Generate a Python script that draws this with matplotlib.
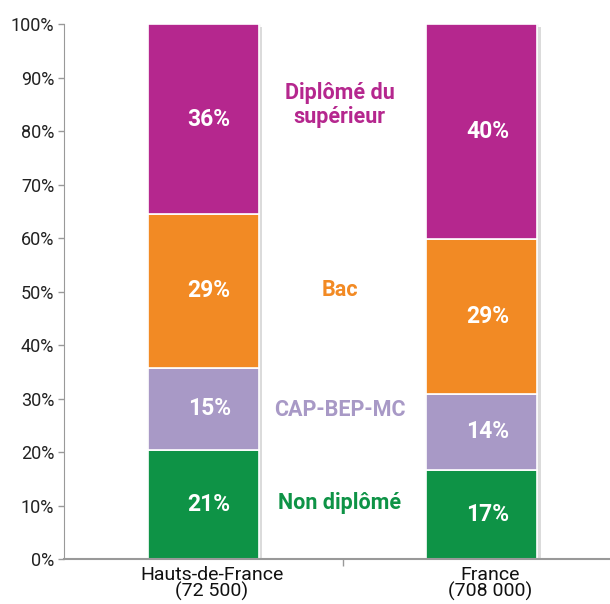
import matplotlib
matplotlib.use("Agg")
import matplotlib.pyplot as plt
import matplotlib.patheffects as pe
import matplotlib.transforms as mtransforms
import numpy as np

plt.rcParams['font.family'] = ['Roboto', 'DejaVu Sans']

categories = ["Hauts-de-France\n(72 500)", "France\n(708 000)"]
series_names = ["Non diplômé", "CAP-BEP-MC", "Bac", "Diplômé du\nsupérieur"]
non_diplome = [20.4, 16.7]
cap_bep = [15.4, 14.2]
bac = [28.7, 29.0]
superieur = [35.5, 40.1]
lbl_non_diplome = ["21%", "17%"]
lbl_cap_bep = ["15%", "14%"]
lbl_bac = ["29%", "29%"]
lbl_superieur = ["36%", "40%"]
yticks = [0, 10, 20, 30, 40, 50, 60, 70, 80, 90, 100]
ytick_labels = [f"{v}%" for v in yticks]
series_label_y = [10.5, 27.8, 50.3, 84.9]

colors = ["#0e9346", "#a899c6", "#f28a24", "#b5278e"]

series = [non_diplome, cap_bep, bac, superieur]
labels = [lbl_non_diplome, lbl_cap_bep, lbl_bac, lbl_superieur]

fig = plt.figure(figsize=(6.10, 6.04), dpi=100)
ax = fig.add_axes([64/610, 1-559.3/604, (610-64)/610, (559.3-24)/604])

x = np.arange(len(categories))
width = 0.4

totals = np.sum(series, axis=0)
ax.bar(x, totals, width=width, color="white", edgecolor="#dddddd", linewidth=1.0, zorder=1,
       path_effects=[pe.SimplePatchShadow(offset=(2.5, -2.5), shadow_rgbFace="#888888", alpha=0.3, rho=1), pe.Normal()])

shift = mtransforms.offset_copy(ax.transData, fig=fig, x=6, y=0, units="dots")

bottom = np.zeros(len(categories))
for vals, col, lbls in zip(series, colors, labels):
    ax.bar(x, vals, width=width, bottom=bottom, color=col, edgecolor="white", linewidth=1.2, zorder=2)
    for xi, v, b, t in zip(x, vals, bottom, lbls):
        ax.text(xi, b + v/2, t, ha="center", va="center", color="white",
                fontsize=16.5, fontweight="bold", zorder=3, transform=shift)
    bottom = bottom + np.array(vals)

for name, col, yy in zip(series_names, colors, series_label_y):
    ax.text(0.49, yy, name, ha="center", va="center", color=col,
            fontsize=15.5, fontweight="bold", linespacing=1.1)

ax.set_yticks(yticks)
ax.set_yticklabels(ytick_labels, fontsize=13, color="#222222")
ax.set_xticks(x + 0.03)
ax.set_xticklabels(categories, fontsize=14, color="#111111", linespacing=0.85)
ax.tick_params(axis="x", length=0, pad=5)
ax.set_xticks([0.5, 1.5], minor=True)
ax.tick_params(axis="x", which="minor", length=5, color="#999999", width=1)
ax.tick_params(axis="y", length=4, color="#999999", width=1, pad=3)
ax.set_xlim(-0.5, -0.5 + (610-64)/278.5)
ax.set_ylim(0, 100)

for s in ["top", "right"]:
    ax.spines[s].set_visible(False)
ax.spines["left"].set_color("#999999")
ax.spines["bottom"].set_color("#999999")
ax.spines["bottom"].set_linewidth(1.5)

fig.savefig("out.png", dpi=100)
